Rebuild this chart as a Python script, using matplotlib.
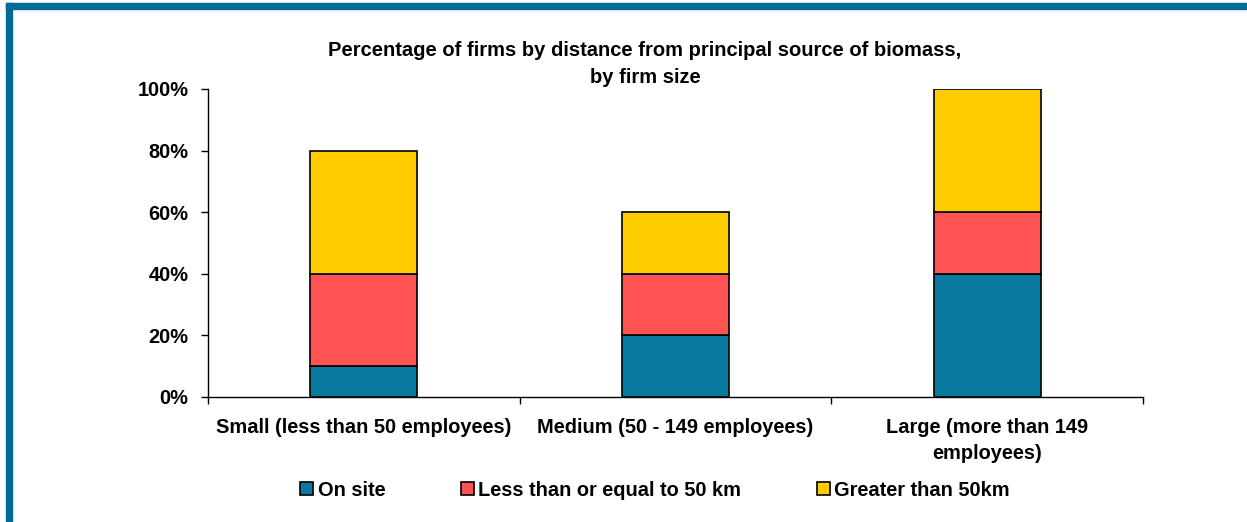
import matplotlib.pyplot as plt
from matplotlib.patches import Rectangle
import numpy as np

plt.rcParams['font.family'] = ['Liberation Sans', 'DejaVu Sans']
plt.rcParams['font.weight'] = 'bold'

categories = ['Small (less than 50 employees)',
              'Medium (50 - 149 employees)',
              'Large (more than 149\nemployees)']
on_site = [10, 20, 40]
within_50km = [30, 20, 20]
over_50km = [40, 20, 40]

series_names = ['On site', 'Less than or equal to 50 km', 'Greater than 50km']
colors = ['#0B7AA3', '#FF5252', '#FFCC00']

fs = 14.4

fig = plt.figure(figsize=(12.47, 5.22), dpi=100)
ax = fig.add_axes([208 / 1247, 1 - 397 / 522, 935 / 1247, 308 / 522])

x = np.arange(len(categories))
bottom = np.zeros(len(categories))
for vals, name, col in zip([on_site, within_50km, over_50km], series_names, colors):
    ax.bar(x, vals, width=0.343, bottom=bottom, color=col, edgecolor='black',
           linewidth=1.2, label=name, zorder=3)
    bottom += np.array(vals)

ax.set_xlim(-0.5, 2.5)
ax.set_ylim(0, 100)
ax.set_yticks(range(0, 101, 20))
ax.set_yticklabels([f'{v}%' for v in range(0, 101, 20)])
ax.set_xticks(x)
ax.set_xticklabels(categories, linespacing=1.5)
ax.set_xticks(np.arange(-0.5, 2.6, 1), minor=True)
ax.tick_params(axis='x', which='major', length=0, pad=15, labelsize=fs)
ax.tick_params(axis='x', which='minor', length=5, width=1, direction='out')
ax.tick_params(axis='y', length=5, width=1, pad=9, labelsize=fs)
for side in ['top', 'right']:
    ax.spines[side].set_visible(False)
for side in ['left', 'bottom']:
    ax.spines[side].set_linewidth(1)

fig.text(645 / 1247, 1 - 64 / 522,
         'Percentage of firms by distance from principal source of biomass,\nby firm size',
         ha='center', va='center', fontsize=14.5, fontweight='bold', linespacing=1.5)

handles, labels = ax.get_legend_handles_labels()
fig.legend(handles, labels, loc='center', bbox_to_anchor=(655 / 1247, 1 - 490 / 522),
           ncol=3, frameon=False, fontsize=fs, handlelength=0.65, handleheight=0.65,
           handletextpad=0.25, columnspacing=3.75)

# frame strips along the top and left edges
fig.patches.append(Rectangle((6 / 1247, 1 - 9 / 522), 1, 6 / 522, transform=fig.transFigure,
                             color='#006C96', zorder=0))
fig.patches.append(Rectangle((6 / 1247, 0), 6 / 1247, 1 - 3 / 522, transform=fig.transFigure,
                             color='#006C96', zorder=0))

fig.savefig('out.png', dpi=100)
